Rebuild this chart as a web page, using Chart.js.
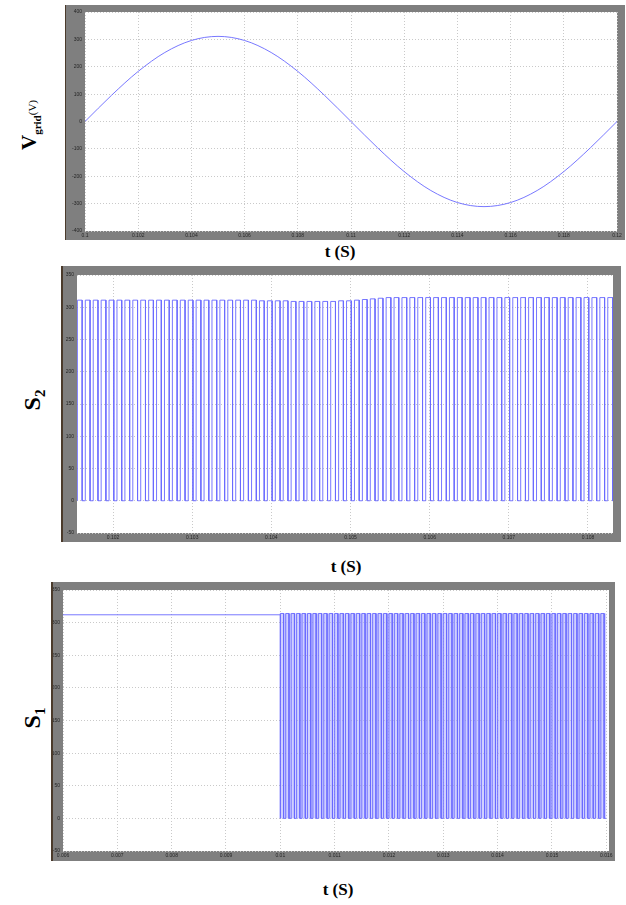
<!DOCTYPE html>
<html>
<head>
<meta charset="utf-8">
<script src="https://cdn.jsdelivr.net/npm/chart.js@4/dist/chart.umd.min.js"></script>
<style>
  html, body { margin: 0; padding: 0; background: #fff; }
  body { width: 626px; height: 905px; position: relative; overflow: hidden; }
  canvas { position: absolute; background: #7f7f7f; }
  .edge { position: absolute; width: 2px; background: #4b3b2c; }
  .lbl { position: absolute; font-family: "Liberation Serif", "DejaVu Serif", serif; color: #000; white-space: nowrap; }
  .rot { transform: translate(-50%, -50%) rotate(-90deg); transform-origin: center center; }
  .tlab { font-weight: bold; font-size: 17px; transform: translateX(-50%); }
</style>
</head>
<body>
<div class="edge" style="left:65px;top:5px;height:235px"></div>
<div class="edge" style="left:61px;top:266px;height:276px"></div>
<div class="edge" style="left:51px;top:582px;height:279px"></div>

<canvas id="c1" width="559" height="235" style="left:66px;top:5px"></canvas>
<canvas id="c2" width="558" height="276" style="left:63px;top:266px"></canvas>
<canvas id="c3" width="562" height="279" style="left:53px;top:582px"></canvas>

<div class="lbl rot" style="left:30px;top:125px;font-weight:bold;"><span style="font-size:21px">V</span><sub style="font-size:11px">grid</sub><span style="font-size:11px;font-weight:normal">(V)</span></div>
<div class="lbl rot" style="left:34px;top:400px;font-weight:bold;"><span style="font-size:24px">S</span><sub style="font-size:15px">2</sub></div>
<div class="lbl rot" style="left:34px;top:718px;font-weight:bold;"><span style="font-size:24px">S</span><sub style="font-size:15px">1</sub></div>

<div class="lbl tlab" style="left:340px;top:242px;">t (S)</div>
<div class="lbl tlab" style="left:346px;top:557px;">t (S)</div>
<div class="lbl tlab" style="left:338px;top:880px;">t (S)</div>

<script>
// ---------- DATA ----------
// Grid voltage samples, t in seconds
const vgridTime = [0.100,0.101,0.102,0.103,0.104,0.105,0.106,0.107,0.108,0.109,0.110,
                   0.111,0.112,0.113,0.114,0.115,0.116,0.117,0.118,0.119,0.120];
const vgridValues = [0,96,183,252,296,311,296,252,183,96,0,
                     -96,-183,-252,-296,-311,-296,-252,-183,-96,0];
const vgridXTicks = [0.1,0.102,0.104,0.106,0.108,0.11,0.112,0.114,0.116,0.118,0.12];
const vgridYTicks = [-400,-300,-200,-100,0,100,200,300,400];

// S2 switching pulses: level of each pulse top
const s2Start = 0.10155;
const s2Period = 0.0001;
const s2PulseTops = [311,311,311,311,311,311,311,311,311,311,
                     311,311,311,311,311,311,311,311,311,311,
                     311,311,311,310,310,310,310,309,309,309,
                     309,309,309,310,310,311,312,313,314,315,
                     315,315,315,315,315,315,315,315,315,315,
                     315,315,315,315,315,315,315,315,315,315,
                     315,315,315,315,315,315,315,315];
const s2XTicks = [0.102,0.103,0.104,0.105,0.106,0.107,0.108];
const s2YTicks = [-50,0,50,100,150,200,250,300,350];

// S1: constant level before 0.01 s, then switching pulses
const s1FlatLevel = 312;
const s1FlatStart = 0.006;
const s1PulseStart = 0.010;
const s1Period = 0.0001;
const s1PulseTops = [314,314,314,314,314,314,314,314,314,314,
                     314,314,314,314,314,314,314,314,314,314,
                     314,314,314,314,314,314,314,314,314,314,
                     314,314,314,314,314,314,314,314,314,314,
                     314,314,314,314,314,314,314,314,314,314,
                     314,314,314,314,314,314,314,314,314,314];
const s1XTicks = [0.006,0.007,0.008,0.009,0.01,0.011,0.012,0.013,0.014,0.015,0.016];
const s1YTicks = [-50,0,50,100,150,200,250,300,350];

const dutyHigh = 0.6; // fraction of each period spent high

// ---------- HELPERS ----------
function pulsePoints(start, period, tops, duty) {
  const pts = [];
  tops.forEach((h, i) => {
    const t0 = start + i * period;
    const t1 = t0 + duty * period;
    pts.push({x: t0, y: 0}, {x: t0, y: h}, {x: t1, y: h}, {x: t1, y: 0});
  });
  pts.push({x: start + tops.length * period, y: 0});
  return pts;
}
function fmt(v) { return String(parseFloat(v.toFixed(4))); }

const whiteArea = {
  id: 'whiteArea',
  beforeDraw(chart) {
    const a = chart.chartArea, ctx = chart.ctx;
    ctx.save();
    ctx.fillStyle = '#ffffff';
    ctx.fillRect(a.left, a.top, a.right - a.left, a.bottom - a.top);
    ctx.restore();
  },
  beforeDatasetsDraw(chart) {
    const tint = chart.options.plugins.whiteArea && chart.options.plugins.whiteArea.tint;
    if (!tint) return;
    const xs = chart.scales.x, ys = chart.scales.y, ctx = chart.ctx;
    const x0 = xs.getPixelForValue(tint.x0), x1 = xs.getPixelForValue(tint.x1);
    const y0 = ys.getPixelForValue(tint.y0), y1 = ys.getPixelForValue(tint.y1);
    ctx.save();
    ctx.fillStyle = tint.color;
    ctx.fillRect(Math.min(x0, x1), Math.min(y0, y1), Math.abs(x1 - x0), Math.abs(y1 - y0));
    ctx.restore();
  }
};

const LINE = 'rgba(105,105,255,0.9)';

function makeChart(id, data, opts) {
  return new Chart(document.getElementById(id), {
    type: 'line',
    data: { datasets: [{ data: data, borderColor: LINE, borderWidth: 1, pointRadius: 0,
      cubicInterpolationMode: opts.smooth ? 'monotone' : 'default', tension: 0, fill: false }] },
    options: {
      responsive: false, animation: false, devicePixelRatio: 1, events: [],
      layout: { padding: { left: 0, top: opts.pad.top, right: opts.pad.right, bottom: 0 } },
      plugins: { legend: { display: false }, tooltip: { enabled: false },
                 whiteArea: { tint: opts.tint || null } },
      scales: {
        x: {
          type: 'linear', min: opts.xmin, max: opts.xmax,
          afterBuildTicks: s => { s.ticks = opts.xticks.map(v => ({ value: v })); },
          afterFit: s => { s.height = opts.xh; },
          grid: { color: '#c9c9c9', lineWidth: 1, drawTicks: false },
          border: { display: false, dash: [1, 2] },
          ticks: { color: '#262626', font: { size: 5, family: 'Liberation Sans' }, padding: 2,
                   maxRotation: 0, autoSkip: false, callback: v => fmt(v) }
        },
        y: {
          type: 'linear', min: opts.ymin, max: opts.ymax,
          afterBuildTicks: s => { s.ticks = opts.yticks.map(v => ({ value: v })); },
          afterFit: s => { s.width = opts.yw; },
          grid: { color: '#c9c9c9', lineWidth: 1, drawTicks: false },
          border: { display: false, dash: [1, 2] },
          ticks: { color: '#262626', font: { size: 5, family: 'Liberation Sans' }, padding: 3,
                   autoSkip: false, callback: v => fmt(v) }
        }
      }
    },
    plugins: [whiteArea]
  });
}

// ---------- CHART 1 ----------
makeChart('c1', vgridTime.map((t, i) => ({ x: t, y: vgridValues[i] })), {
  smooth: true, xmin: 0.1, xmax: 0.12, ymin: -400, ymax: 400,
  xticks: vgridXTicks, yticks: vgridYTicks, yw: 19, xh: 9, pad: { top: 7, right: 8 }
});

// ---------- CHART 2 ----------
makeChart('c2', pulsePoints(s2Start, s2Period, s2PulseTops, dutyHigh), {
  smooth: false, xmin: 0.101545, xmax: 0.108316, ymin: -50, ymax: 350,
  xticks: s2XTicks, yticks: s2YTicks, yw: 14, xh: 9, pad: { top: 9, right: 8 }
});

// ---------- CHART 3 ----------
const s1Data = [{ x: s1FlatStart, y: s1FlatLevel }, { x: s1PulseStart, y: s1FlatLevel }]
  .concat(pulsePoints(s1PulseStart, s1Period, s1PulseTops, dutyHigh));
const s1End = s1PulseStart + s1PulseTops.length * s1Period;
makeChart('c3', s1Data, {
  smooth: false, xmin: 0.006, xmax: 0.01605, ymin: -50, ymax: 350,
  xticks: s1XTicks, yticks: s1YTicks, yw: 10, xh: 10, pad: { top: 8, right: 6 },
  tint: { color: 'rgba(170,170,255,0.55)', x0: s1PulseStart, x1: s1End,
          y0: 0, y1: Math.min(...s1PulseTops) }
});
</script>
</body>
</html>
